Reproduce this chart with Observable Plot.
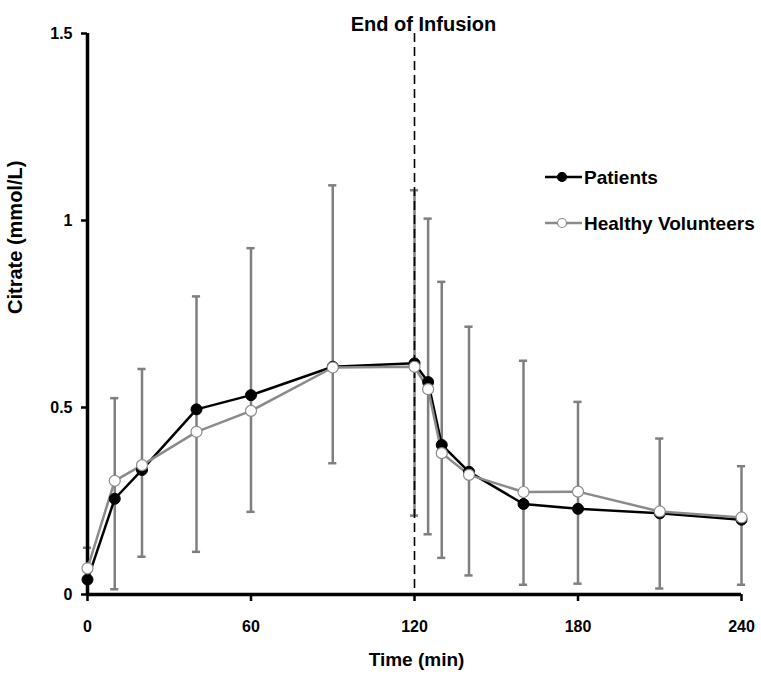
<!DOCTYPE html>
<html>
<head>
<meta charset="utf-8">
<script src="https://cdn.jsdelivr.net/npm/d3@7"></script>
<script src="https://cdn.jsdelivr.net/npm/@observablehq/plot@0.6"></script>
<style>
  html, body { margin: 0; padding: 0; background: #fff; }
  #chart svg { display: block; font-family: "Liberation Sans", Arial, sans-serif; }
</style>
</head>
<body>
<div id="chart"></div>
<script>
// ---- data ----
const times    = [0, 10, 20, 40, 60, 90, 120, 125, 130, 140, 160, 180, 210, 240];
const patients = [0.040, 0.256, 0.333, 0.495, 0.533, 0.609, 0.618, 0.568, 0.400, 0.328, 0.242, 0.229, 0.217, 0.200];
const healthy  = [0.070, 0.304, 0.346, 0.435, 0.491, 0.607, 0.609, 0.549, 0.378, 0.320, 0.274, 0.275, 0.222, 0.206];
const errHigh  = [0.125, 0.525, 0.603, 0.797, 0.926, 1.094, 1.081, 1.005, 0.836, 0.716, 0.625, 0.515, 0.417, 0.343];
const errLow   = [0.000, 0.014, 0.101, 0.114, 0.221, 0.351, 0.211, 0.161, 0.098, 0.051, 0.026, 0.029, 0.016, 0.026];
const xTicks   = [0, 60, 120, 180, 240];
const yTicks   = [0, 0.5, 1, 1.5];
const yTickLabels = ["0", "0.5", "1", "1.5"];
const endOfInfusion = 120;
const seriesNames = ["Patients", "Healthy Volunteers"];
const titleText = "End of Infusion";
const xLabel = "Time (min)";
const yLabel = "Citrate (mmol/L)";

const pRows = times.map((t, i) => ({t, v: patients[i]}));
const hRows = times.map((t, i) => ({t, v: healthy[i]}));
const eRows = times.map((t, i) => ({t, hi: errHigh[i], lo: errLow[i]}));

const GRAY = "#8a8a8a";
const ERR = "#7f7f7f";
const capHalf = 1.5; // minutes (cap half-width)

const plot = Plot.plot({
  width: 761,
  height: 681,
  marginLeft: 87,
  marginRight: 20,
  marginTop: 33,
  marginBottom: 87,
  style: {fontFamily: '"Liberation Sans", Arial, sans-serif', background: "#fff"},
  x: {domain: [0, 240], nice: false},
  y: {domain: [0, 1.5], nice: false},
  marks: [
    // error bars
    Plot.ruleX(eRows, {x: "t", y1: "lo", y2: "hi", stroke: ERR, strokeWidth: 2.5}),
    Plot.ruleY(eRows, {y: "hi", x1: d => d.t - capHalf, x2: d => d.t + capHalf, stroke: ERR, strokeWidth: 2.5}),
    Plot.ruleY(eRows.filter(d => d.lo > 0), {y: "lo", x1: d => d.t - capHalf, x2: d => d.t + capHalf, stroke: ERR, strokeWidth: 2.5}),
    // end of infusion
    Plot.ruleX([endOfInfusion], {stroke: "#000", strokeWidth: 1.6, strokeDasharray: "9,5"}),
    // axes
    Plot.axisX({ticks: xTicks, tickSize: 7, tickPadding: 19, tickFormat: d => String(d), fontSize: 16, fontWeight: "bold", stroke: "#000", strokeWidth: 2.5, label: null}),
    Plot.axisY({ticks: yTicks, tickSize: 6, tickPadding: 9, tickFormat: (d, i) => yTickLabels[i], fontSize: 16, fontWeight: "bold", stroke: "#000", strokeWidth: 2.5, label: null}),
    Plot.ruleY([0], {stroke: "#000", strokeWidth: 3.5}),
    Plot.ruleX([0], {stroke: "#000", strokeWidth: 3.5}),
    // patients
    Plot.line(pRows, {x: "t", y: "v", stroke: "#000", strokeWidth: 2.5}),
    // healthy
    Plot.line(hRows, {x: "t", y: "v", stroke: GRAY, strokeWidth: 2.5}),
    Plot.dot(pRows, {x: "t", y: "v", r: 5.5, fill: "#000", stroke: "#000", strokeWidth: 1}),
    Plot.dot(hRows, {x: "t", y: "v", r: 5.5, fill: "#fff", stroke: GRAY, strokeWidth: 1.2}),
    // titles
    Plot.text([titleText], {x: endOfInfusion, text: d => d, frameAnchor: "top", dy: -17, dx: 9, fontSize: 20, fontWeight: "bold", fill: "#000"}),
    Plot.text([xLabel], {text: d => d, frameAnchor: "bottom", dy: 71, dx: 2, fontSize: 19, fontWeight: "bold", fill: "#000"}),
    Plot.text([yLabel], {text: d => d, frameAnchor: "left", rotate: -90, dx: -72, fontSize: 20, fontWeight: "bold", fill: "#000"})
  ]
});

document.getElementById("chart").appendChild(plot);

// legend (inside the plot area, upper right)
const svg = d3.select(plot);
const leg = svg.append("g")
  .attr("font-family", '"Liberation Sans", Arial, sans-serif')
  .attr("text-anchor", "start");
const legendItems = [
  {name: seriesNames[0], stroke: "#000", fill: "#000", y: 177},
  {name: seriesNames[1], stroke: GRAY, fill: "#fff", y: 223}
];
legendItems.forEach(it => {
  const g = leg.append("g").attr("transform", `translate(545,${it.y})`);
  g.append("line").attr("x1", 0).attr("x2", 37).attr("y1", 0).attr("y2", 0)
    .attr("stroke", it.stroke).attr("stroke-width", 2.5);
  g.append("circle").attr("cx", 17).attr("cy", 0).attr("r", 4.5)
    .attr("fill", it.fill).attr("stroke", it.stroke).attr("stroke-width", 1.2);
  g.append("text").attr("x", 39).attr("y", 0).attr("dy", "0.35em")
    .attr("text-anchor", "start")
    .attr("font-size", 19).attr("font-weight", "bold").attr("fill", "#000").text(it.name);
});
</script>
</body>
</html>
